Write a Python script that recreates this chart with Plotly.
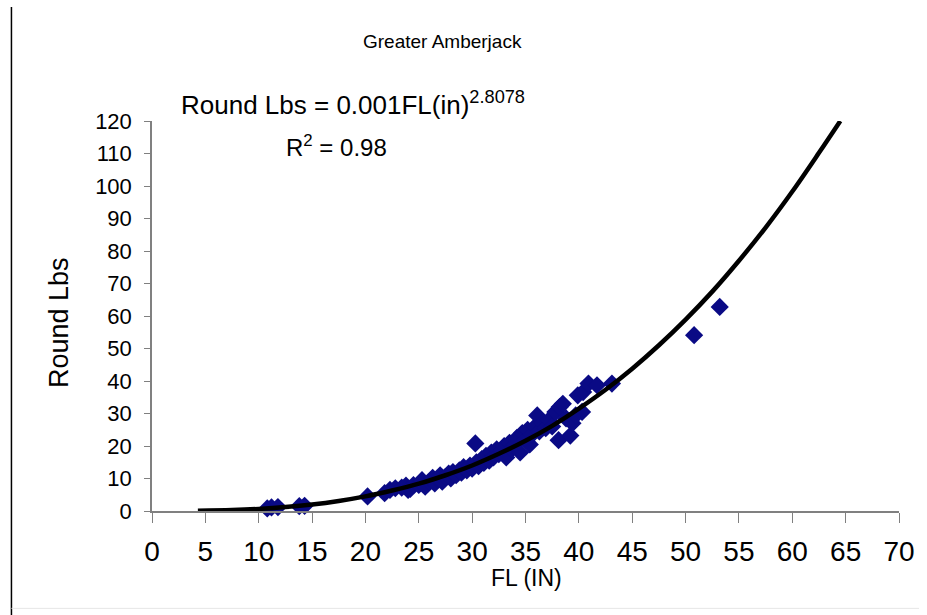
import plotly.graph_objects as go

# Observed fish: fork length (in) vs round weight (lbs)
fl_in = [10.8, 11.2, 11.8, 13.8, 14.3, 20.2, 21.8, 22.3, 22.8, 23.4, 23.8, 24.0, 24.2, 24.5,
         25.0, 25.3, 25.6, 26.0, 26.3, 26.5, 26.8, 27.0, 27.2, 27.5, 27.8, 28.0, 28.2, 28.5,
         28.8, 29.0, 29.2, 29.5, 29.8, 30.0, 30.3, 30.4, 30.6, 30.9, 31.1, 31.3, 31.6, 31.8,
         32.0, 32.3, 32.5, 32.8, 33.0, 33.2, 33.5, 33.7, 34.0, 34.2, 34.5, 34.7, 35.0, 35.2,
         35.4, 35.6, 35.9, 36.1, 36.3, 36.6, 36.9, 37.2, 37.5, 37.8, 38.1, 38.2, 38.5, 38.8,
         39.2, 39.4, 39.7, 39.9, 40.3, 40.4, 40.9, 41.7, 43.1, 50.8, 53.2]
round_lbs = [0.8, 1.1, 1.2, 1.5, 1.6, 4.5, 5.5, 6.5, 7.0, 7.2, 7.8, 6.5, 6.8, 8.0,
             8.0, 9.5, 7.5, 9.0, 10.2, 8.5, 9.8, 11.0, 9.0, 10.5, 11.5, 10.0, 12.0, 11.0,
             12.5, 11.8, 13.5, 12.5, 14.0, 13.0, 20.8, 15.0, 13.8, 16.0, 14.8, 17.0, 15.5, 18.0,
             16.5, 19.0, 17.5, 18.5, 20.0, 16.5, 21.0, 19.0, 20.5, 22.5, 18.0, 24.0, 22.0, 25.0,
             20.5, 23.5, 26.0, 29.4, 24.5, 27.0, 25.5, 28.0, 26.0, 30.5, 21.8, 32.0, 33.0, 28.5,
             23.2, 27.0, 29.4, 35.6, 30.5, 36.6, 39.2, 38.7, 39.2, 54.1, 62.8]

# Power trendline
trend_x = [4.3, 7.5, 10, 12.5, 15, 17.5, 20, 22.5, 25, 27.5, 30, 32.5, 35, 37.5, 40,
           42.5, 45, 47.5, 50, 52.5, 55, 57.5, 60, 62.5, 64.5]
trend_y = [0.06, 0.29, 0.64, 1.2, 2.0, 3.1, 4.5, 6.3, 8.4, 11.0, 14.0, 17.6, 21.6, 26.2, 31.5,
           37.3, 43.8, 51.0, 58.9, 67.5, 77.0, 87.2, 98.3, 110.2, 120.0]

x_ticks = list(range(0, 71, 5))
y_ticks = list(range(0, 121, 10))

FONT = "Liberation Sans, Arial, sans-serif"

# plot area in page pixels
PLOT_L, PLOT_R, PLOT_T, PLOT_B = 152, 906.7, 121, 510.7
PLOT_W = PLOT_R - PLOT_L
PLOT_H = PLOT_B - PLOT_T


def px_x(px):
    return (px - PLOT_L) / PLOT_W


def px_y(py):
    return (PLOT_B - py) / PLOT_H


fig = go.Figure()

fig.add_trace(go.Scatter(
    x=fl_in, y=round_lbs, mode="markers",
    marker=dict(symbol="diamond", size=14, color="#0a0a85", line=dict(width=0)),
    cliponaxis=False, showlegend=False,
))

fig.add_trace(go.Scatter(
    x=trend_x, y=trend_y, mode="lines",
    line=dict(color="black", width=4.5, shape="spline"),
    cliponaxis=False, showlegend=False,
))

fig.update_layout(
    width=927, height=615,
    margin=dict(l=PLOT_L, r=927 - PLOT_R, t=PLOT_T, b=615 - PLOT_B, pad=0),
    paper_bgcolor="white", plot_bgcolor="white",
    font=dict(family=FONT, color="black"),
    xaxis=dict(
        range=[0, 70], tickvals=x_ticks, showgrid=False, zeroline=False,
        showline=True, linecolor="#808080", linewidth=1.5,
        ticks="outside", ticklen=10, tickcolor="#808080",
        tickfont=dict(size=28), ticklabelstandoff=5,
    ),
    yaxis=dict(
        range=[0, 120], tickvals=y_ticks, showgrid=False, zeroline=False,
        showline=True, linecolor="#808080", linewidth=1.5,
        ticks="outside", ticklen=6, tickcolor="#808080",
        tickfont=dict(size=22), ticklabelstandoff=8,
    ),
    shapes=[
        dict(type="line", xref="paper", yref="paper",
             x0=px_x(10), x1=px_x(10), y0=px_y(7), y1=px_y(615),
             line=dict(color="black", width=1.5)),
        dict(type="line", xref="paper", yref="paper",
             x0=px_x(10), x1=px_x(927), y0=px_y(608), y1=px_y(608),
             line=dict(color="#e6e6e6", width=1)),
    ],
    annotations=[
        dict(text="Greater Amberjack", xref="paper", yref="paper",
             x=px_x(445), y=px_y(42),
             showarrow=False, font=dict(size=19), xanchor="center", yanchor="middle"),
        dict(text="Round Lbs = 0.001FL(in)<sup>2.8078</sup>", xref="paper", yref="paper",
             x=px_x(179), y=px_y(104),
             showarrow=False, font=dict(size=26), xanchor="left", yanchor="middle"),
        dict(text="R<sup>2</sup> = 0.98", xref="paper", yref="paper",
             x=px_x(285), y=px_y(146),
             showarrow=False, font=dict(size=24), xanchor="left", yanchor="middle"),
        dict(text="Round Lbs", xref="paper", yref="paper",
             x=px_x(58), y=px_y(322), textangle=-90,
             showarrow=False, font=dict(size=27), xanchor="center", yanchor="middle"),
        dict(text="FL (IN)", xref="paper", yref="paper",
             x=px_x(530), y=px_y(578),
             showarrow=False, font=dict(size=23), xanchor="center", yanchor="middle"),
    ],
)

# drop the default 8px body margin so the figure sits at the window corner
fig.write_html("out.html", config={"displayModeBar": False},
               post_script="document.body.style.margin='0';")
